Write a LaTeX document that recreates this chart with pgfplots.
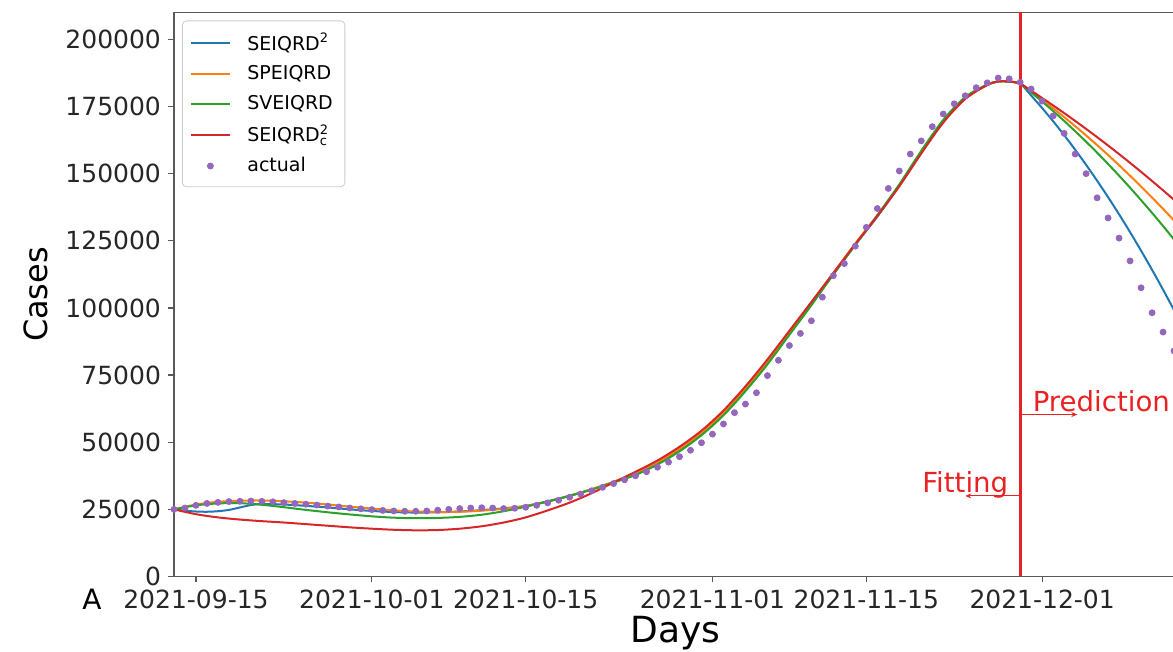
\documentclass[border=0pt]{standalone}
\usepackage{pgfplots}
\pgfplotsset{compat=1.18}
\usepackage{fontspec}
\setmainfont{DejaVu Sans}
\usetikzlibrary{arrows.meta}
\definecolor{cblue}{HTML}{1F77B4}
\definecolor{corange}{HTML}{FF7F0E}
\definecolor{cgreen}{HTML}{2CA02C}
\definecolor{cred}{HTML}{D62728}
\definecolor{cpurple}{HTML}{9467BD}
\definecolor{vline}{HTML}{E82222}
\newcommand{\smallt}[1]{\hbox{\fontsize{6.5}{7}\selectfont #1}}
\begin{document}
\begin{tikzpicture}
\begin{axis}[
  name=ax,
  scale only axis, width=501.5pt, height=282pt,
  xmin=-2, xmax=89.27, ymin=0, ymax=210000,
  axis line style={black!65, line width=0.6pt},
  xtick={0,16,30,47,61,77},
  xticklabels={2021-09-15,2021-10-01,2021-10-15,2021-11-01,2021-11-15,2021-12-01},
  ytick={0,25000,50000,75000,100000,125000,150000,175000,200000},
  scaled y ticks=false,
  yticklabel style={/pgf/number format/fixed, /pgf/number format/1000 sep={}},
  /pgf/number format/assume math mode=true,
  tick label style={font=\fontsize{12.5}{14}\selectfont, text=black!85},
  tick align=outside, major tick length=3pt,
  tick style={black!65, line width=0.6pt},
  xtick pos=left, ytick pos=left,
  xlabel={Days}, ylabel={Cases},
  xlabel style={font=\fontsize{18}{20}\selectfont, yshift=3pt},
  ylabel style={font=\fontsize{16}{18}\selectfont, yshift=2pt},
  legend cell align=left,
  legend image code/.code={\path[draw=none,fill=none] (0pt,0pt) -- (26pt,0pt);\draw[mark repeat=2,mark phase=2,#1] plot coordinates {(0pt,0pt) (9.5pt,0pt) (19pt,0pt)};},
  legend style={at={(0,1)}, anchor=north west, xshift=4pt, yshift=-4pt,
    draw=black!20, rounded corners=2pt, fill=white,
    font=\fontsize{9.5}{11}\selectfont, row sep=2.2pt, inner xsep=4pt, inner ysep=4pt},
]
\addplot[cblue, line width=1pt, smooth] coordinates {
(-2,25000)(-1,24500)(0,24200)(1,24100)(2,24300)(3,24800)(4,25700)(5,26600)(6,27000)(8,26800)(10,26300)(12,25700)(14,25000)(16,24400)(18,24000)(20,23800)(22,23900)(24,24200)(26,24700)(28,25400)(30,26300)(32,28000)(34,30100)(36,32500)(38,35100)(40,38100)(42,42000)(44,47000)(46,53000)(48,60500)(50,69500)(52,79500)(54,90500)(56,101500)(58,112500)(60,123500)(62,134000)(64,145500)(66,158000)(68,169500)(70,178000)(72,183000)(73,184300)(74,184300)(75,183500)(76,179077)(77,174408)(78,169493)(79,164332)(80,158925)(81,153272)(82,147373)(83,141228)(84,134837)(85,128200)(86,121317)(87,114188)(88,106813)(89,99192)};
\addlegendentry{SEIQRD\(\sp{\smallt{2}}\)}
\addplot[corange, line width=1pt, smooth] coordinates {
(-2,25000)(0,26800)(2,27800)(4,28200)(6,28300)(8,28000)(10,27500)(12,26800)(14,26000)(16,25300)(18,24600)(20,24200)(22,24000)(24,24100)(26,24500)(28,25200)(30,26200)(32,27900)(34,30000)(36,32500)(38,35300)(40,38500)(42,42500)(44,47500)(46,53500)(48,61000)(50,70000)(52,80000)(54,91000)(56,102000)(58,113000)(60,124000)(62,134500)(64,145500)(66,158000)(68,169500)(70,178000)(72,183000)(73,184300)(74,184300)(75,183500)(76,180547)(77,177489)(78,174325)(79,171055)(80,167680)(81,164199)(82,160613)(83,156921)(84,153123)(85,149220)(86,145211)(87,141097)(88,136877)(89,132550)};
\addlegendentry{SPEIQRD}
\addplot[cgreen, line width=1pt, smooth] coordinates {
(-2,25000)(0,26500)(2,27200)(4,27300)(6,26700)(8,25800)(10,24800)(12,23900)(14,23100)(16,22400)(18,21900)(20,21700)(22,21800)(24,22200)(26,23000)(28,24300)(30,26000)(32,27900)(34,30000)(36,32300)(38,35000)(40,37800)(42,41700)(44,46600)(46,52600)(48,60000)(50,69000)(52,79000)(54,90000)(56,101000)(58,112500)(60,123500)(62,134500)(64,146000)(66,158500)(68,170000)(70,178500)(72,183200)(73,184300)(74,184200)(75,183500)(76,180232)(77,176830)(78,173293)(79,169620)(80,165813)(81,161870)(82,157793)(83,153580)(84,149233)(85,144750)(86,140133)(87,135380)(88,130493)(89,125470)};
\addlegendentry{SVEIQRD}
\addplot[cred, line width=1pt, smooth] coordinates {
(-2,25000)(0,23200)(2,22000)(4,21200)(6,20600)(8,20100)(10,19500)(12,18900)(14,18300)(16,17800)(18,17400)(20,17200)(22,17300)(24,17800)(26,18700)(28,20100)(30,22000)(32,24600)(34,27500)(36,31000)(38,35000)(40,39000)(42,43200)(44,48300)(46,54300)(48,61800)(50,70800)(52,80800)(54,91500)(56,102200)(58,113000)(60,123800)(62,134200)(64,145300)(66,157500)(68,169000)(70,177800)(72,183000)(73,184300)(74,184300)(75,183500)(76,180865)(77,178160)(78,175385)(79,172540)(80,169625)(81,166640)(82,163585)(83,160460)(84,157265)(85,154000)(86,150665)(87,147260)(88,143785)(89,140240)};
\addlegendentry{SEIQRD\(\sp{\smallt{2}}\sb{\smallt{c}}\)}
\addplot[only marks, mark=*, mark size=1.5pt, cpurple, mark options={draw=cpurple, fill=cpurple}] coordinates {
(-2,25000)(-1,25500)(0,26500)(1,27200)(2,27600)(3,27900)(4,28000)(5,28100)(6,28000)(7,27800)(8,27500)(9,27200)(10,26900)(11,26600)(12,26200)(13,25900)(14,25500)(15,25200)(16,24900)(17,24600)(18,24400)(19,24300)(20,24300)(21,24400)(22,24700)(23,25000)(24,25300)(25,25500)(26,25600)(27,25500)(28,25300)(29,25400)(30,25800)(31,26500)(32,27400)(33,28400)(34,29500)(35,30700)(36,31900)(37,33200)(38,34600)(39,36000)(40,37500)(41,39000)(42,40700)(43,42600)(44,44600)(45,47000)(46,49800)(47,53000)(48,56800)(49,61000)(50,64200)(51,68400)(52,74800)(53,80500)(54,86000)(55,90500)(56,95200)(57,104000)(58,112000)(59,116500)(60,123000)(61,130000)(62,137000)(63,144500)(64,151000)(65,157300)(66,162200)(67,167500)(68,172200)(69,176000)(70,179000)(71,182000)(72,183800)(73,185600)(74,185300)(75,184000)(76,181500)(77,177000)(78,171500)(79,165000)(80,157300)(81,150000)(82,141000)(83,133500)(84,126000)(85,117500)(86,107500)(87,98200)(88,91000)(89,84000)};
\addlegendentry{actual}
\addplot[vline, line width=1.5pt, forget plot] coordinates {(75,0)(75,210000)};
\draw[vline, line width=0.5pt, -{Stealth[length=3pt,width=2.5pt]}] (axis cs:75,30000) -- (axis cs:70,30000);
\node[vline, font=\fontsize{13.8}{15}\selectfont, anchor=base] at (axis cs:70,31200) {Fitting};
\draw[vline, line width=0.5pt, -{Stealth[length=3pt,width=2.5pt]}] (axis cs:75,60300) -- (axis cs:80.2,60300);
\node[vline, font=\fontsize{13.8}{15}\selectfont, anchor=base west] at (axis cs:75.5,61500) {Prediction};
\end{axis}
\node[font=\fontsize{14}{16}\selectfont] at ([shift={(-41pt,-11.5pt)}]ax.south west) {A};
\pgfresetboundingbox
\path[use as bounding box] ([shift={(-87pt,-37.75pt)}]ax.south west) rectangle ([shift={(499.5pt,288.25pt)}]ax.south west);
\end{tikzpicture}
\end{document}
